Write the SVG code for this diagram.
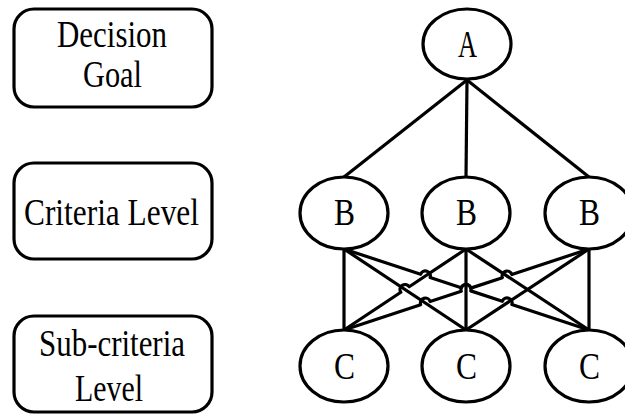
<svg xmlns="http://www.w3.org/2000/svg" width="625" height="416" viewBox="0 0 625 416">
<style>
.box{fill:#fff;stroke:#000;stroke-width:3.2}
.node{fill:#fff;stroke:#000;stroke-width:3.2}
.edge{fill:none;stroke:#000;stroke-width:3.2;stroke-linejoin:round}
text{font-family:"Liberation Serif","Times New Roman",serif;font-size:38px;fill:#000}
</style>
<rect width="625" height="416" fill="#fff"/>
<g id="label-goal">
<rect class="box" x="14" y="9" width="198" height="98" rx="20"/>
<text x="57" y="47" textLength="110" lengthAdjust="spacingAndGlyphs">Decision</text>
<text x="83" y="87" textLength="59" lengthAdjust="spacingAndGlyphs">Goal</text>
</g>
<g id="label-criteria">
<rect class="box" x="14" y="163" width="198" height="96" rx="20"/>
<text x="24" y="225" textLength="175" lengthAdjust="spacingAndGlyphs">Criteria Level</text>
</g>
<g id="label-subcriteria">
<rect class="box" x="14" y="316" width="198" height="96" rx="20"/>
<text x="39" y="356" textLength="146" lengthAdjust="spacingAndGlyphs">Sub-criteria</text>
<text x="75" y="401" textLength="68" lengthAdjust="spacingAndGlyphs">Level</text>
</g>
<g id="connectors">
<path class="edge" d="M467 80 L344 177"/>
<path class="edge" d="M467 80 L466 177"/>
<path class="edge" d="M467 80 L589 177"/>
<path class="edge" d="M344 249 L344 330"/>
<path class="edge" d="M344 249 L466 330"/>
<path class="edge" d="M344 249 L420.65 274.33 A5 5 0 0 1 430.15 277.47 L461.25 287.73 A5 5 0 0 1 470.75 290.87 L502.35 301.33 A5 5 0 0 1 511.85 304.47 L589 330"/>
<path class="edge" d="M344 330 L400.83 292.27 A5 5 0 0 1 409.17 286.73 L466 249"/>
<path class="edge" d="M466 249 L466 330"/>
<path class="edge" d="M466 249 L589 330"/>
<path class="edge" d="M344 330 L420.65 304.67 A5 5 0 0 1 430.15 301.53 L461.25 291.27 A5 5 0 0 1 470.75 288.13 L502.35 277.67 A5 5 0 0 1 511.85 274.53 L589 249"/>
<path class="edge" d="M589 249 L466 330"/>
<path class="edge" d="M589 249 L589 330"/>
</g>
<g id="A">
<ellipse class="node" cx="467" cy="44" rx="44" ry="35"/>
<text x="458" y="57" textLength="19" lengthAdjust="spacingAndGlyphs">A</text>
</g>
<g id="B1">
<ellipse class="node" cx="344" cy="213" rx="44" ry="36"/>
<text x="334" y="225" textLength="21" lengthAdjust="spacingAndGlyphs">B</text>
</g>
<g id="B2">
<ellipse class="node" cx="466" cy="213" rx="44" ry="36"/>
<text x="456" y="225" textLength="21" lengthAdjust="spacingAndGlyphs">B</text>
</g>
<g id="B3">
<ellipse class="node" cx="589" cy="213" rx="44" ry="36"/>
<text x="579" y="225" textLength="21" lengthAdjust="spacingAndGlyphs">B</text>
</g>
<g id="C1">
<ellipse class="node" cx="344" cy="366" rx="44" ry="36"/>
<text x="334" y="379" textLength="21" lengthAdjust="spacingAndGlyphs">C</text>
</g>
<g id="C2">
<ellipse class="node" cx="466" cy="366" rx="44" ry="36"/>
<text x="456" y="379" textLength="21" lengthAdjust="spacingAndGlyphs">C</text>
</g>
<g id="C3">
<ellipse class="node" cx="589" cy="366" rx="44" ry="36"/>
<text x="579" y="379" textLength="21" lengthAdjust="spacingAndGlyphs">C</text>
</g>
</svg>
